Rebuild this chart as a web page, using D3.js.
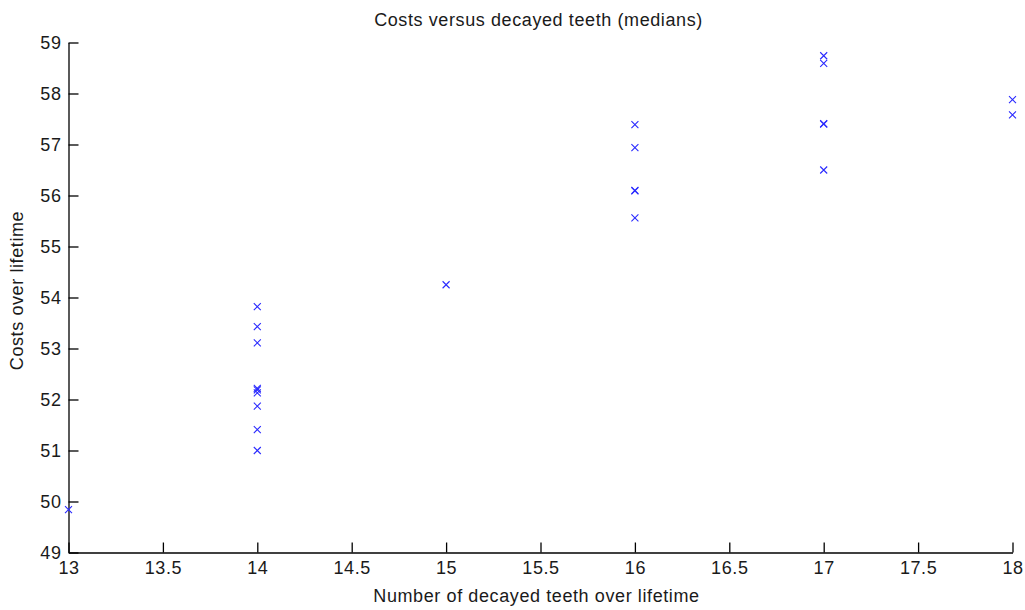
<!DOCTYPE html>
<html>
<head>
<meta charset="utf-8">
<script src="https://cdn.jsdelivr.net/npm/d3@7/dist/d3.min.js"></script>
<style>
  html, body { margin: 0; padding: 0; background: #fff; }
  svg { display: block; }
  text { font-family: "Liberation Sans", Arial, sans-serif; fill: #1a1a1a; }
</style>
</head>
<body>
<svg id="chart" width="1025" height="610"></svg>
<script>
// ---- data ----
const teeth = [13, 14, 14, 14, 14, 14, 14, 14, 14, 14, 15, 16, 16, 16, 16, 16, 17, 17, 17, 17, 17, 18, 18];
const costs = [49.84, 53.82, 53.43, 53.11, 52.22, 52.19, 52.13, 51.87, 51.41, 51.00, 54.25,
               57.39, 56.94, 56.10, 56.09, 55.56, 58.74, 58.59, 57.41, 57.40, 56.50, 57.88, 57.58];
const xTicks = [13, 13.5, 14, 14.5, 15, 15.5, 16, 16.5, 17, 17.5, 18];
const yTicks = [49, 50, 51, 52, 53, 54, 55, 56, 57, 58, 59];
const titleText = "Costs versus decayed teeth (medians)";
const xLabel = "Number of decayed teeth over lifetime";
const yLabel = "Costs over lifetime";

// ---- layout ----
const pL = 68.5, pR = 1012.5, pT = 42.5, pB = 552.5;
const svg = d3.select("#chart");
const x = d3.scaleLinear().domain([13, 18]).range([pL, pR]);
const y = d3.scaleLinear().domain([49, 59]).range([pB, pT]);

const fontSize = 18, ls = "0.6px";

// x axis
const gx = svg.append("g").attr("transform", `translate(0,${pB})`)
  .call(d3.axisBottom(x).tickValues(xTicks).tickFormat(d => String(d))
        .tickSizeInner(-10).tickSizeOuter(0).tickPadding(6));
// y axis
const gy = svg.append("g").attr("transform", `translate(${pL},0)`)
  .call(d3.axisLeft(y).tickValues(yTicks).tickFormat(d => String(d))
        .tickSizeInner(-10).tickSizeOuter(0).tickPadding(7));

[gx, gy].forEach(g => {
  g.select(".domain").attr("stroke", "#000").attr("stroke-width", 1.3);
  g.selectAll(".tick line").attr("stroke", "#000").attr("stroke-width", 1.3);
  g.selectAll(".tick text").attr("font-size", fontSize).style("letter-spacing", ls)
    .attr("fill", "#1a1a1a").attr("font-family", "Liberation Sans, Arial, sans-serif");
});
gx.selectAll(".tick text").attr("dy", "0.72em").attr("y", 9);
gy.selectAll(".tick text").attr("dy", "0.36em").attr("x", -7);

// markers
const h = 3.5;
const pts = teeth.map((t, i) => [x(t), y(costs[i])]);
svg.append("g").selectAll("path").data(pts).join("path")
  .attr("d", d => `M${d[0]-h},${d[1]-h}L${d[0]+h},${d[1]+h}M${d[0]-h},${d[1]+h}L${d[0]+h},${d[1]-h}`)
  .attr("stroke", "#2a2aff").attr("stroke-width", 1.1).attr("fill", "none");

// labels
svg.append("text").attr("x", (pL + pR) / 2 - 2).attr("y", 26)
  .attr("text-anchor", "middle").attr("font-size", fontSize).style("letter-spacing", ls)
  .text(titleText);
svg.append("text").attr("x", (pL + pR) / 2 - 4).attr("y", 602)
  .attr("text-anchor", "middle").attr("font-size", fontSize).style("letter-spacing", ls)
  .text(xLabel);
svg.append("text").attr("transform", `translate(23,${(pT + pB) / 2 - 7}) rotate(-90)`)
  .attr("text-anchor", "middle").attr("font-size", fontSize).style("letter-spacing", ls)
  .text(yLabel);
</script>
</body>
</html>
